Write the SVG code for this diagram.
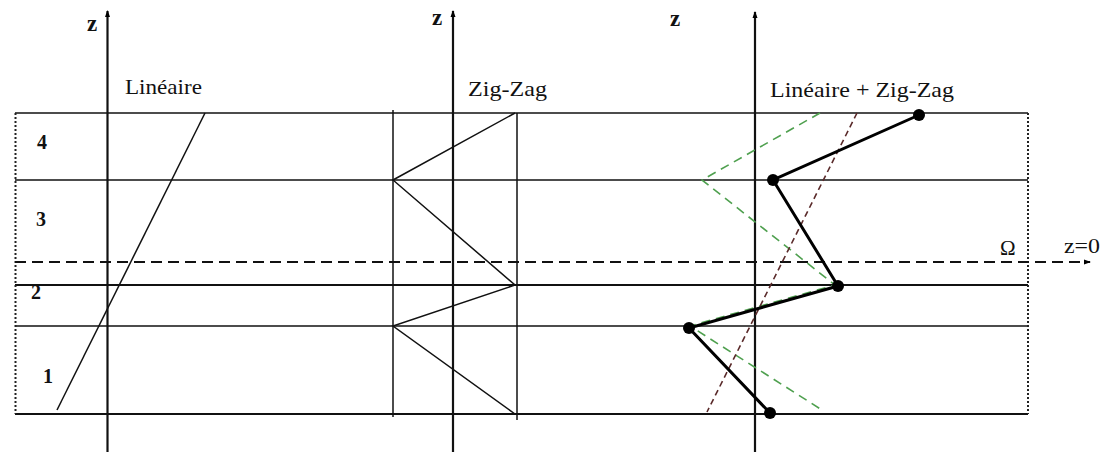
<svg xmlns="http://www.w3.org/2000/svg" width="1102" height="452" viewBox="0 0 1102 452">
<defs>
<marker id="ah" markerWidth="8" markerHeight="8" refX="6" refY="4" orient="auto" markerUnits="userSpaceOnUse">
<path d="M0,1.5 L7,4 L0,6.5 Z" fill="#000"/>
</marker>
<marker id="dot" markerWidth="14" markerHeight="14" refX="7" refY="7" markerUnits="userSpaceOnUse">
<circle cx="7" cy="7" r="6" fill="#000"/>
</marker>
</defs>
<style>
text{fill:#111}
.lab{font-size:21px}
.z{font-size:23px;font-weight:bold}
.num{font-size:20px;font-weight:bold}
.h{stroke:#111;stroke-width:1.5;fill:none}
.axis{stroke:#111;stroke-width:2.2;fill:none}
.dotted{stroke:#222;stroke-width:2;stroke-dasharray:2 2;fill:none}
.thin{stroke:#111;stroke-width:1.5;fill:none}
</style>
<rect width="1102" height="452" fill="#fff"/>
<g id="connectors">
<line class="h" x1="15" y1="113" x2="1028" y2="113"/>
<line class="h" x1="15" y1="180" x2="1028" y2="180"/>
<line class="h" x1="15" y1="285" x2="1028" y2="285" style="stroke-width:2.2"/>
<line class="h" x1="15" y1="326" x2="1028" y2="326"/>
<line class="h" x1="15" y1="414" x2="1028" y2="414" style="stroke-width:2"/>
<line class="dotted" x1="15.5" y1="113" x2="15.5" y2="414"/>
<line class="dotted" x1="1028" y1="113" x2="1028" y2="414"/>
<line x1="15" y1="262" x2="1090" y2="262" stroke="#111" stroke-width="2.2" stroke-dasharray="11 6" marker-end="url(#ah)"/>
<line class="axis" x1="107.5" y1="452" x2="107.5" y2="11" marker-end="url(#ah)"/>
<line class="axis" x1="453" y1="452" x2="453" y2="11" marker-end="url(#ah)"/>
<line class="axis" x1="755" y1="452" x2="755" y2="12" marker-end="url(#ah)"/>
<line class="thin" x1="393" y1="110" x2="393" y2="417"/>
<line class="thin" x1="517" y1="113" x2="517" y2="420"/>
</g>
<g font-family="Liberation Serif, Times New Roman, serif">
<g id="linear">
<line class="thin" x1="205" y1="113" x2="57" y2="410"/>
<text class="lab" x="125" y="94" textLength="77" lengthAdjust="spacingAndGlyphs">Linéaire</text>
</g>
<g id="zigzag">
<polyline class="thin" points="515,113 393,180 515,285 393,326 515,414"/>
<text class="lab" x="468" y="96" textLength="79" lengthAdjust="spacingAndGlyphs">Zig-Zag</text>
</g>
<g id="combined">
<polyline points="820,113 702,180 835,285 690,326 822,410" fill="none" stroke="#4fa04f" stroke-width="1.6" stroke-dasharray="9 6"/>
<line x1="857" y1="113" x2="707" y2="412" stroke="#5a2a2a" stroke-width="1.6" stroke-dasharray="6 4"/>
<polyline points="919,115 773,180 838,286 689,328 770,413" fill="none" stroke="#000" stroke-width="3" marker-start="url(#dot)" marker-mid="url(#dot)" marker-end="url(#dot)"/>
<text class="lab" x="770" y="97" textLength="184" lengthAdjust="spacingAndGlyphs">Linéaire + Zig-Zag</text>
</g>
<g id="labels">
<text class="z" x="87" y="31">z</text>
<text class="z" x="432" y="25">z</text>
<text class="z" x="670" y="26">z</text>
<text class="num" x="37" y="149">4</text>
<text class="num" x="36" y="226">3</text>
<text class="num" x="31" y="299">2</text>
<text class="num" x="43" y="383">1</text>
<text class="lab" x="1000" y="255" style="font-size:21px">Ω</text>
<text class="lab" x="1064" y="253" style="font-size:21px" textLength="36" lengthAdjust="spacingAndGlyphs">z=0</text>
</g>
</g>
</svg>
